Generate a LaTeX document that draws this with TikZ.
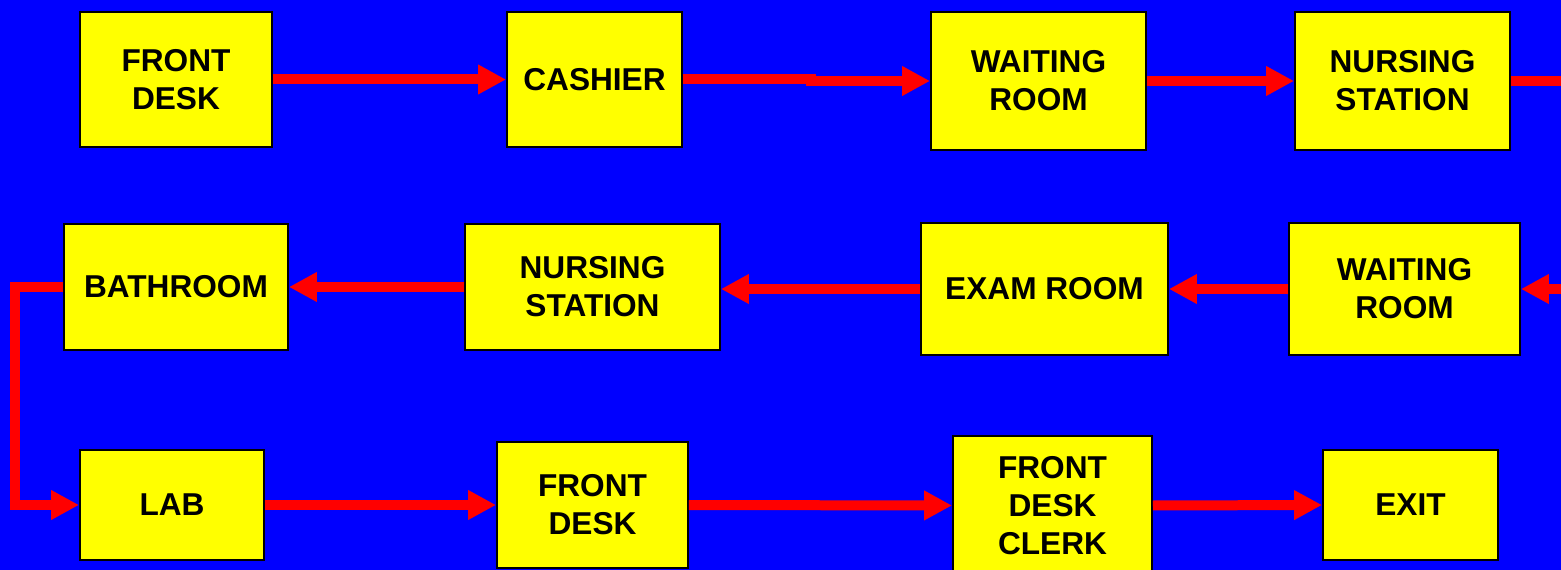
\documentclass[tikz,border=0pt]{standalone}
\usepackage{fontspec}
\setmainfont{Liberation Sans}
\usetikzlibrary{arrows.meta}
\definecolor{fundo}{RGB}{0,0,255}
\definecolor{amarelo}{RGB}{255,255,0}
\definecolor{vermelho}{RGB}{255,0,0}

\begin{document}
\begin{tikzpicture}[
            x=0.02cm, y=-0.02cm,
            sala/.style={
                draw=black, line width=0.04cm, fill=amarelo, inner sep=0pt,
                align=center, font=\fontsize{18}{21.6}\selectfont\bfseries
            },
            seta/.style={draw=vermelho, line width=0.2cm, -{Triangle[length=0.56cm, width=0.56cm]}},
            linha/.style={draw=vermelho, line width=0.2cm}
        ]
            % fundo
            \fill[fundo] (0,0) rectangle (1561,570);
            \useasboundingbox (0,0) rectangle (1561,570);

            % --- Linha 1 ---
            \node[sala, minimum width=3.84cm, minimum height=2.70cm] (fd1) at (176,79.5) {FRONT\\DESK};
            \node[sala, minimum width=3.50cm, minimum height=2.70cm] (cx) at (594.5,79.5) {CASHIER};
            \node[sala, minimum width=4.30cm, minimum height=2.78cm] (wr1) at (1038.5,81) {WAITING\\ROOM};
            \node[sala, minimum width=4.30cm, minimum height=2.78cm] (ns1) at (1402.5,81) {NURSING\\STATION};
            \coordinate (out1) at (1561,81);

            \draw[seta] (fd1.east) -- (cx.west);
            \draw[seta] (cx.east) -- ++(128,0) |- (wr1.west);
            \draw[seta] (wr1.east) -- (ns1.west);
            \draw[linha] (ns1.east) -- (out1);

            % --- Linha 2 ---
            \coordinate (in2) at (1561,289);
            \node[sala, minimum width=4.62cm, minimum height=2.64cm] (wr2) at (1404.5,289) {WAITING\\ROOM};
            \node[sala, minimum width=4.94cm, minimum height=2.64cm] (exam) at (1044.5,289) {EXAM ROOM};
            \node[sala, minimum width=5.10cm, minimum height=2.54cm] (ns2) at (592.5,287) {NURSING\\STATION};
            \node[sala, minimum width=4.48cm, minimum height=2.54cm] (bath) at (176,287) {BATHROOM};

            \draw[seta] (in2) -- (wr2.east);
            \draw[seta] (wr2.west) -- (exam.east);
            \draw[seta] (exam.west) -- (exam.west -| ns2.east);
            \draw[seta] (ns2.west) -- (bath.east);

            % --- Linha 3 ---
            \node[sala, minimum width=3.68cm, minimum height=2.22cm] (lab) at (172,505) {LAB};
            \node[sala, minimum width=3.82cm, minimum height=2.54cm] (fd2) at (592.5,505) {FRONT\\DESK};
            \node[sala, minimum width=3.98cm, minimum height=2.80cm] (clerk) at (1052.5,505.5) {FRONT\\DESK\\CLERK};
            \node[sala, minimum width=3.50cm, minimum height=2.22cm] (exit) at (1410.5,505) {EXIT};

            \draw[seta, miter limit=10] (bath.west) -- ++(-48,0) |- (lab.west);
            \draw[seta] (lab.east) -- (fd2.west);
            \draw[seta] (fd2.east) -- (clerk.west);
            \draw[seta] (clerk.east) -- (exit.west);

        \end{tikzpicture}
\end{document}
